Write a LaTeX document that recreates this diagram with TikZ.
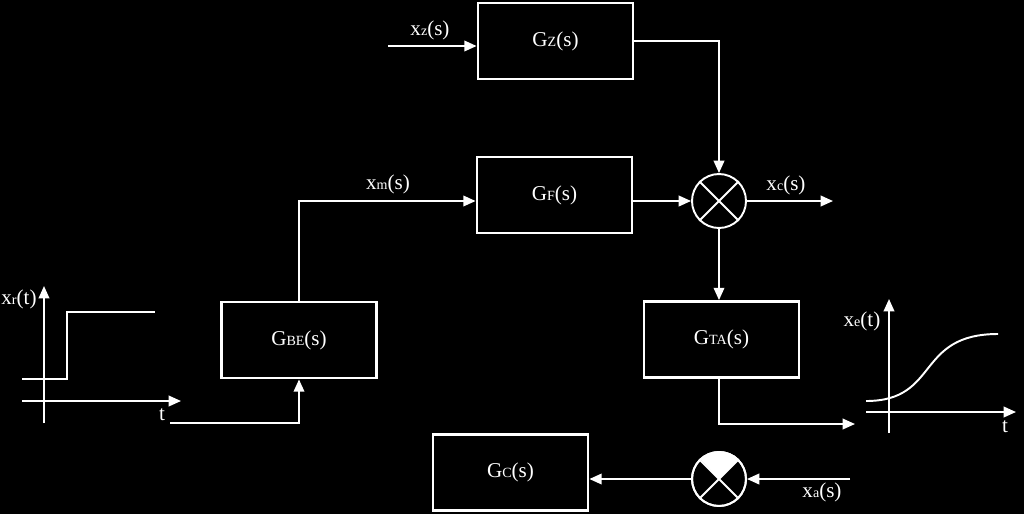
\documentclass[tikz,border=0pt]{standalone}
\usepackage{fontspec}
\setmainfont{Liberation Serif}
\usetikzlibrary{arrows.meta,calc}
\newcommand\sbs[1]{{\fontsize{8}{9}\selectfont #1}}
\begin{document}
\begin{tikzpicture}[x=0.02cm,y=-0.02cm,
  every node/.style={text=white,font=\fontsize{12}{14}\selectfont},
  blk/.style={draw=white,line width=1.6pt,minimum width=3.1cm,minimum height=1.52cm,inner sep=0pt},
  sumj/.style={draw=white,line width=1.1pt,circle,minimum size=1.08cm,inner sep=0pt},
  wire/.style={draw=white,line width=1.1pt},
  arr/.style={wire,-{Triangle[length=7pt,width=6pt]}},
  lbl/.style={inner sep=0pt}]
\fill[black] (0,0) rectangle (1024,514);
\useasboundingbox (0,0) rectangle (1024,514);
% blocks
\node[blk] (Gz) at (555.5,41) {G\sbs{Z}(s)};
\node[blk] (GF) at (554.5,195) {G\sbs{F}(s)};
\node[blk] (GBE) at (299,340) {G\sbs{BE}(s)};
\node[blk] (GTA) at (721.5,339.5) {G\sbs{TA}(s)};
\node[blk] (Gc) at (510.5,472.5) {G\sbs{C}(s)};
% summing junctions
\node[sumj] (S1) at (719,201) {};
\draw[wire] (S1.45) -- (S1.225) (S1.135) -- (S1.315);
\node[sumj] (S2) at (719,479) {};
\fill[white] (S2.center) -- (S2.45) arc[start angle=45,end angle=135,radius=0.54cm] -- cycle;
\draw[wire] (S2.45) -- (S2.225) (S2.135) -- (S2.315);
\node[sumj] at (S2) {};
% free ends
\coordinate (xzin) at (388,46);
\coordinate (tin) at (170,423);
\coordinate (xcout) at (833,201);
\coordinate (xeout) at (855,424);
\coordinate (xain) at (850,479);
\coordinate (bend) at (299,201);
% connectors
\draw[arr] (xzin) -- (Gz.west |- xzin);
\draw[arr] (Gz.east) -| (S1.north);
\draw[arr] (GF.east |- S1.west) -- (S1.west);
\draw[arr] (GBE.north) -- (bend) -- (GF.west |- bend);
\draw[arr] (tin) -| (GBE.south);
\draw[arr] (S1.east) -- (xcout);
\draw[arr] (S1.south) -- (S1.south |- GTA.north);
\draw[arr] (S1 |- GTA.south) |- (xeout);
\draw[arr] (xain) -- (S2.east);
\draw[arr] (S2.west) -- (Gc.east |- S2);
% labels
\node[lbl] (lxz) at (430,30) {x\sbs{z}(s)};
\node[lbl] (lxm) at (388,184) {x\sbs{m}(s)};
\node[lbl] (lxc) at (786,185) {x\sbs{c}(s)};
\node[lbl] (lxa) at (822,492) {x\sbs{a}(s)};
% left step plot
\draw[arr] (44,423) -- (44,286);
\draw[arr] (22,401) -- (181,401);
\draw[wire] (22,379) -- (67,379) -- (67,312) -- (155,312);
\node[lbl] (lxr) at (19,299) {x\sbs{r}(t)};
\node[lbl] (lt1) at (162,415) {t};
% right response plot
\draw[arr] (889,433) -- (889,299);
\draw[arr] (866,412) -- (1016,412);
\draw[wire] (866,401) .. controls (940,401) and (915,334) .. (998,334);
\node[lbl] (lxe) at (862,321) {x\sbs{e}(t)};
\node[lbl] (lt2) at (1005,427) {t};
\end{tikzpicture}
\end{document}
